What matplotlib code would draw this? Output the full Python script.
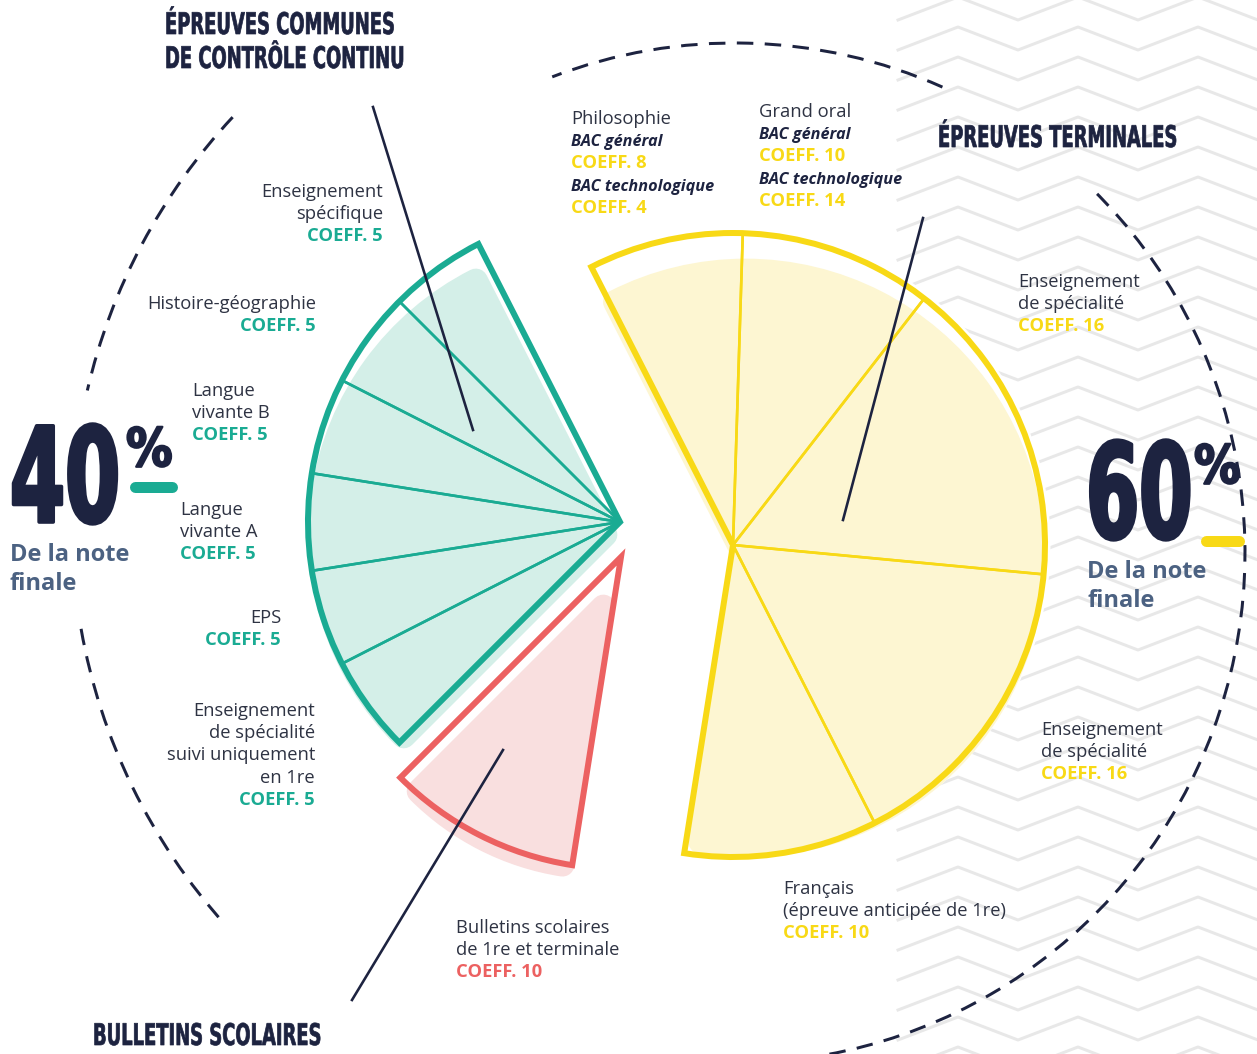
import numpy as np
import matplotlib.pyplot as plt
from matplotlib.patches import Arc
from matplotlib.patheffects import AbstractPathEffect
from matplotlib.text import Text
from matplotlib.transforms import Affine2D, Bbox

W, H = 1257, 1054
PX = 0.72  # points per pixel at dpi 100

# coefficients out of 100 -> one full circle
teal_coeffs = [5, 5, 5, 5, 5, 5]
red_coeffs = [10]
yellow_coeffs = [8, 10, 16, 16, 10]
TOTAL = 100

TEAL, TEAL_L = "#1aab93", "#d4efe8"
YEL, YEL_L = "#f8d916", "#fdf6d2"
RED, RED_L = "#ec6161", "#f9dfdf"
NAVY = "#1d2340"
GREY = "#2e3343"
SLATE = "#4c6282"

plt.rcParams['font.family'] = ['Open Sans', 'DejaVu Sans']


class Squeeze(AbstractPathEffect):
    """narrow the glyphs horizontally (condensed display face) and fatten them a bit"""

    def __init__(self, sx, lw=0.0):
        super().__init__()
        self.sx, self.lw = sx, lw

    def draw_path(self, renderer, gc, tpath, affine, rgbFace=None):
        gc0 = renderer.new_gc()
        gc0.copy_properties(gc)
        if self.lw:
            gc0.set_linewidth(self.lw)
            gc0.set_foreground(rgbFace)
            gc0.set_joinstyle('round')
        renderer.draw_path(gc0, tpath, Affine2D().scale(self.sx, 1) + affine, rgbFace)
        gc0.restore()


class NarrowText(Text):
    # left-anchored text drawn condensed; extent reports the narrowed width
    def __init__(self, x, y, s, sx=0.6, lw=0.0, **kw):
        super().__init__(x, y, s, path_effects=[Squeeze(sx, lw)], **kw)
        self._sx = sx

    def get_window_extent(self, renderer=None, dpi=None):
        bb = super().get_window_extent(renderer, dpi)
        return Bbox.from_extents(bb.x0, bb.y0, bb.x0 + bb.width * self._sx, bb.y1)


fig = plt.figure(figsize=(W / 100, H / 100), dpi=100)
ax = fig.add_axes([0, 0, 1, 1])


def Y(y):
    return H - y


def narrow(x, y, s, **kw):
    ax.add_artist(NarrowText(x, Y(y), s, family='DejaVu Sans', fontweight='bold', color=NAVY,
                             va='baseline', zorder=7, **kw))


def group(vals, center, start, ccw, line, fill, r=312, backing=False, k=12, drop=15):
    fr = np.array(vals) / TOTAL
    tot = fr.sum()
    cx, cy = center
    if backing:
        ax.pie([tot], center=(cx, Y(cy)), radius=r, startangle=start, counterclock=ccw,
               normalize=False, colors=['white'], frame=True,
               wedgeprops=dict(edgecolor='white', linewidth=8, zorder=2))
    # soft shadow: same wedge with rounded corners, dropped a little
    span = 360 * tot
    mid = np.radians(start + (span / 2 if ccw else -span / 2))
    d = k / np.sin(np.radians(span / 2))
    sx = cx + d * np.cos(mid)
    sy = Y(cy + drop) + d * np.sin(mid)
    ax.pie([tot], center=(sx, sy), radius=r - k - d, startangle=start, counterclock=ccw,
           normalize=False, colors=[fill], frame=True,
           wedgeprops=dict(edgecolor=fill, linewidth=2 * k * PX, joinstyle='round', zorder=3))
    # thin separators
    ax.pie(fr, center=(cx, Y(cy)), radius=r, startangle=start, counterclock=ccw,
           normalize=False, colors=['none'] * len(fr), frame=True,
           wedgeprops=dict(edgecolor=line, linewidth=2.6 * PX, zorder=4))
    # thick outline of the whole group
    ax.pie([tot], center=(cx, Y(cy)), radius=r, startangle=start, counterclock=ccw,
           normalize=False, colors=['none'], frame=True,
           wedgeprops=dict(edgecolor=line, linewidth=6 * PX, zorder=5))


# zigzag background on the right
zx = np.arange(898, W + 61, 60)
for k in range(-1, 37):
    y0 = 27 + 30 * k
    zy = np.where(np.arange(len(zx)) % 2 == 0, y0 + 23, y0)
    ax.plot(zx, Y(zy), color='#e8e8e8', lw=3 * PX, zorder=1)

# dashed guide arcs
dash = dict(color=NAVY, lw=3 * PX, linestyle=(0, (5.5, 3.8)), zorder=2.5)
for t1, t2 in [(137, 167), (190, 222)]:
    ax.add_patch(Arc((670, Y(525)), 2 * 598, 2 * 598, theta1=t1, theta2=t2, **dash))
for t1, t2 in [(-95, 45.5), (66, 111)]:
    ax.add_patch(Arc((735, Y(553)), 2 * 510, 2 * 510, theta1=t1, theta2=t2, **dash))

group(teal_coeffs, (620, 522), 117, True, TEAL, TEAL_L)
group(red_coeffs, (621, 557), 117 + 3.6 * sum(teal_coeffs), True, RED, RED_L)
group(yellow_coeffs, (733, 545), 117, False, YEL, YEL_L, backing=True)

# leader lines
for (x1, y1), (x2, y2) in [((373, 107), (473, 430)), ((923, 218), (843, 520)),
                           ((352, 1000), (503, 750))]:
    ax.plot([x1, x2], [Y(y1), Y(y2)], color=NAVY, lw=2.6 * PX, zorder=6)

# section titles (condensed display style)
for x, y, s in [(165, 34, "ÉPREUVES COMMUNES"), (165, 68, "DE CONTRÔLE CONTINU"),
                (938, 147, "ÉPREUVES TERMINALES"), (93, 1045, "BULLETINS SCOLAIRES")]:
    narrow(x, y, s, fontsize=21.5, sx=0.6, lw=0.5)

# big percentages
narrow(10, 522, "40", fontsize=95, sx=0.6, lw=2.6)
narrow(126, 466, "%", fontsize=38, sx=0.88, lw=1.6)
ax.plot([135, 172], [Y(487)] * 2, color=TEAL, lw=11 * PX, solid_capstyle='round', zorder=7)
narrow(1086, 538, "60", fontsize=95, sx=0.58, lw=2.6)
narrow(1194, 483, "%", fontsize=38, sx=0.88, lw=1.6)
ax.plot([1206, 1239], [Y(541)] * 2, color=YEL, lw=11 * PX, solid_capstyle='round', zorder=7)
for x, y in [(10, 561), (1087, 578)]:
    ax.text(x, Y(y), "De la note", fontsize=17, fontweight='bold', color=SLATE, va='baseline', zorder=7)
    ax.text(x, Y(y + 29), "finale", fontsize=17, fontweight='bold', color=SLATE, va='baseline', zorder=7)


def label(x, y0, rows, ha='left'):
    for i, (s, c, w, st, fs) in enumerate(rows):
        ax.text(x, Y(y0 + 22.2 * i), s, color=c, fontweight=w, fontstyle=st, fontsize=fs,
                ha=ha, va='baseline', zorder=7)


def n(s):
    return (s, GREY, 'normal', 'normal', 13.2)


def co(s, c):
    return (s, c, 'bold', 'normal', 13.2)


def bac(s):
    return (s, NAVY, 'bold', 'italic', 11.7)


label(383, 197, [n("Enseignement"), n("spécifique"), co("COEFF. 5", TEAL)], 'right')
label(316, 309, [n("Histoire-géographie"), co("COEFF. 5", TEAL)], 'right')
label(192, 396, [n("Langue"), n("vivante B"), co("COEFF. 5", TEAL)])
label(180, 515, [n("Langue"), n("vivante A"), co("COEFF. 5", TEAL)])
label(281, 623, [n("EPS"), co("COEFF. 5", TEAL)], 'right')
label(315, 716, [n("Enseignement"), n("de spécialité"), n("suivi uniquement"), n("en 1re"),
                 co("COEFF. 5", TEAL)], 'right')
label(456, 933, [n("Bulletins scolaires"), n("de 1re et terminale"), co("COEFF. 10", RED)])
label(571, 124, [n("Philosophie"), bac("BAC général"), co("COEFF. 8", YEL),
                 bac("BAC technologique"), co("COEFF. 4", YEL)])
label(759, 117, [n("Grand oral"), bac("BAC général"), co("COEFF. 10", YEL),
                 bac("BAC technologique"), co("COEFF. 14", YEL)])
label(1018, 287, [n("Enseignement"), n("de spécialité"), co("COEFF. 16", YEL)])
label(1041, 735, [n("Enseignement"), n("de spécialité"), co("COEFF. 16", YEL)])
label(783, 894, [n("Français"), n("(épreuve anticipée de 1re)"), co("COEFF. 10", YEL)])

ax.set_xlim(0, W)
ax.set_ylim(0, H)
ax.set_aspect('auto')
ax.axis('off')
fig.savefig("out.png", dpi=100, facecolor='white')
